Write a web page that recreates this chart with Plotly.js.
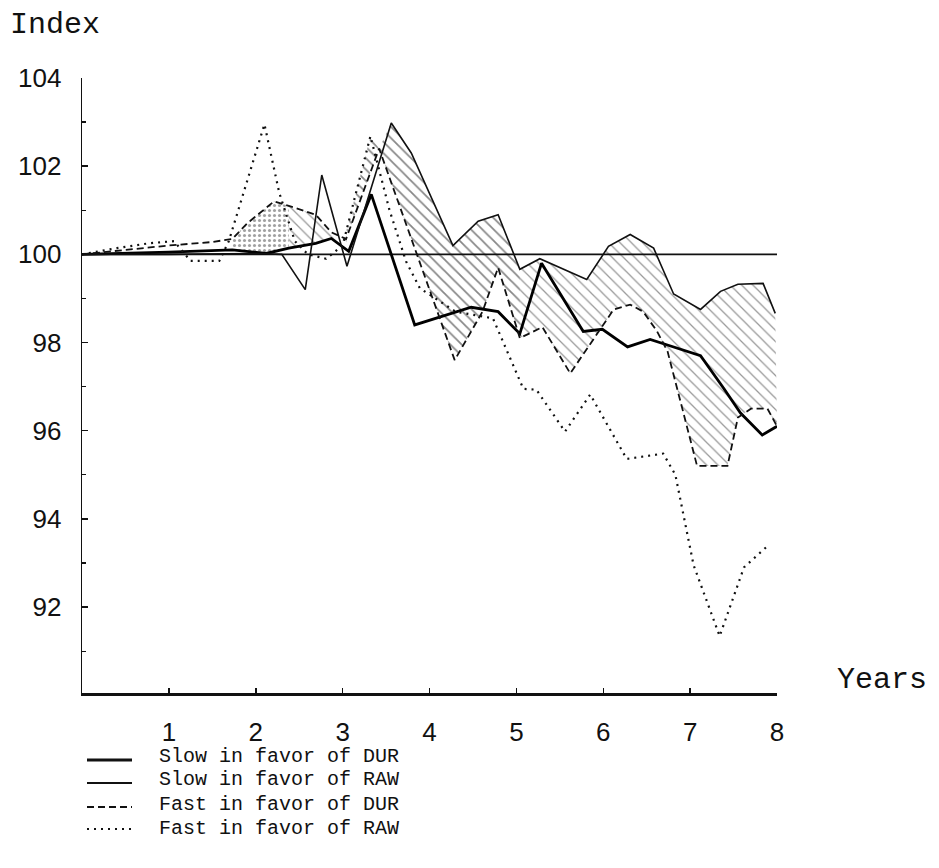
<!DOCTYPE html>
<html>
<head>
<meta charset="utf-8">
<script src="https://cdn.plot.ly/plotly-3.0.1.min.js"></script>
<style>html,body{margin:0;padding:0;background:#fff;}#chart{width:939px;height:868px;}</style>
</head>
<body>
<div id="chart"></div>
<script>
// ---- data ----
const BASE = 100;
const xRange = [0, 8];

const slowDurX = [0, 0.5, 1.0, 1.73, 2.12, 2.38, 2.69, 2.87, 2.99, 3.07, 3.33, 3.83, 4.48, 4.79, 5.04, 5.29, 5.77, 5.99, 6.28, 6.54, 6.73, 7.12, 7.39, 7.58, 7.83, 8.0];
const slowDurY = [100, 100.02, 100.05, 100.1, 100.02, 100.14, 100.25, 100.36, 100.18, 100.07, 101.36, 98.4, 98.8, 98.7, 98.2, 99.8, 98.25, 98.3, 97.9, 98.07, 97.95, 97.7, 96.95, 96.4, 95.9, 96.1];

const slowRawX = [0, 1.0, 2.0, 2.30, 2.57, 2.76, 3.05, 3.56, 3.79, 4.27, 4.56, 4.79, 5.04, 5.27, 5.81, 6.06, 6.31, 6.58, 6.81, 7.12, 7.35, 7.55, 7.84, 7.98];
const slowRawY = [100, 100.0, 100.02, 100.0, 99.2, 101.8, 99.73, 102.98, 102.3, 100.2, 100.75, 100.9, 99.66, 99.9, 99.43, 100.18, 100.45, 100.14, 99.1, 98.75, 99.16, 99.32, 99.34, 98.66];

const fastDurX = [0, 0.5, 1.0, 1.5, 1.73, 1.9, 2.21, 2.38, 2.69, 2.87, 3.04, 3.42, 4.29, 4.61, 4.79, 5.04, 5.30, 5.62, 6.12, 6.31, 6.46, 6.62, 6.74, 7.08, 7.43, 7.55, 7.70, 7.89, 8.0];
const fastDurY = [100, 100.1, 100.2, 100.28, 100.35, 100.7, 101.2, 101.1, 100.9, 100.5, 100.35, 102.4, 97.6, 98.7, 99.7, 98.1, 98.35, 97.3, 98.75, 98.86, 98.7, 98.25, 97.8, 95.2, 95.2, 96.3, 96.5, 96.5, 96.1];

const fastRawX = [0, 0.4, 0.77, 1.06, 1.25, 1.58, 1.69, 2.1, 2.27, 2.45, 2.6, 2.81, 3.0, 3.32, 3.54, 3.73, 3.89, 4.3, 4.73, 5.08, 5.23, 5.56, 5.85, 6.27, 6.69, 6.83, 7.04, 7.34, 7.62, 7.90];
const fastRawY = [100, 100.14, 100.25, 100.3, 99.85, 99.85, 100.3, 102.95, 101.4, 100.3, 100.0, 99.9, 100.2, 102.68, 101.0, 99.84, 99.23, 98.7, 98.55, 96.95, 96.93, 95.98, 96.82, 95.36, 95.48, 95.0, 92.95, 91.34, 92.9, 93.4];

const yTickVals = [92, 94, 96, 98, 100, 102, 104];
const xTickVals = [1, 2, 3, 4, 5, 6, 7, 8];
const legendLabels = ["Slow in favor of DUR", "Slow in favor of RAW", "Fast in favor of DUR", "Fast in favor of RAW"];
const yTitle = "Index";
const xTitle = "Years";

// ---- layout helpers ----
const W = 939, H = 868;
const M = {l: 82, r: 162, t: 78, b: 175};
const PW = W - M.l - M.r, PH = H - M.t - M.b;
const px = v => (v - M.l) / PW;
const py = v => 1 - (v - M.t) / PH;

function sub(xs, ys, lo, hi) {
  const ox = [], oy = [];
  xs.forEach((x, i) => { if (x >= lo - 1e-9 && x <= hi + 1e-9) { ox.push(x); oy.push(ys[i]); } });
  return {x: ox, y: oy};
}

const traces = [];
function band(lower, upper, pattern) {
  traces.push({x: lower.x, y: lower.y, mode: 'lines', line: {width: 0, color: 'rgba(0,0,0,0)'}, hoverinfo: 'skip', showlegend: false});
  traces.push({x: upper.x, y: upper.y, mode: 'lines', line: {width: 0, color: 'rgba(0,0,0,0)'}, fill: 'tonexty',
    fillcolor: 'rgba(0,0,0,0)', fillpattern: pattern, hoverinfo: 'skip', showlegend: false});
}
const stipple = {shape: '.', size: 5, solidity: 0.3, fgcolor: '#444', bgcolor: 'rgba(255,255,255,0)', fillmode: 'overlay'};
const hatch = {shape: '\\', size: 8, solidity: 0.22, fgcolor: '#111', bgcolor: 'rgba(255,255,255,0)', fillmode: 'overlay'};
const hatchLight = {shape: '\\', size: 8, solidity: 0.16, fgcolor: '#333', bgcolor: 'rgba(255,255,255,0)', fillmode: 'overlay'};

band(sub(slowDurX, slowDurY, 1.7, 2.38), sub(fastDurX, fastDurY, 1.7, 2.38), stipple);
band(sub(slowDurX, slowDurY, 2.38, 3.07), sub(fastDurX, fastDurY, 2.38, 3.07), hatchLight);
band(sub(fastDurX, fastDurY, 3.0, 3.45), sub(fastRawX, fastRawY, 3.0, 3.45), hatch);
band(sub(fastDurX, fastDurY, 3.42, 5.04), sub(slowRawX, slowRawY, 3.42, 5.04), hatch);
band(sub(fastDurX, fastDurY, 5.04, 8), sub(slowRawX, slowRawY, 5.04, 8), hatchLight);

traces.push({x: xRange, y: [BASE, BASE], mode: 'lines', line: {color: '#111', width: 1.6}, hoverinfo: 'skip', showlegend: false});
const styles = [
  {color: '#000', width: 2.8, dash: 'solid'},
  {color: '#111', width: 1.6, dash: 'solid'},
  {color: '#111', width: 1.8, dash: '7px,4px'},
  {color: '#111', width: 2.2, dash: '2px,5px'}
];
const seriesX = [slowDurX, slowRawX, fastDurX, fastRawX];
const seriesY = [slowDurY, slowRawY, fastDurY, fastRawY];
seriesX.forEach((xs, i) => {
  traces.push({x: xs, y: seriesY[i], name: legendLabels[i], mode: 'lines', line: styles[i], showlegend: false});
});

const mono = 'Liberation Mono, Courier New, monospace';
const annotations = [
  {text: yTitle, xref: 'paper', yref: 'paper', x: px(8), y: py(25), xanchor: 'left', yanchor: 'middle', showarrow: false, font: {family: mono, size: 30, color: '#111'}},
  {text: xTitle, xref: 'paper', yref: 'paper', x: px(835), y: py(680), xanchor: 'left', yanchor: 'middle', showarrow: false, font: {family: mono, size: 30, color: '#111'}}
];
const shapes = [];
const rowText = [756, 780, 804, 828];
const rowLine = [760, 783, 807, 829];
legendLabels.forEach((lab, i) => {
  annotations.push({text: lab, xref: 'paper', yref: 'paper', x: px(158), y: py(rowText[i]), xanchor: 'left', yanchor: 'middle',
    showarrow: false, borderpad: 0, font: {family: mono, size: 20, color: '#111'}});
  shapes.push({type: 'line', xref: 'paper', yref: 'paper', x0: px(87), x1: px(132), y0: py(rowLine[i]), y1: py(rowLine[i]),
    line: {color: '#111', width: i === 0 ? 3 : (i === 1 ? 2 : styles[i].width), dash: i >= 2 ? styles[i].dash : 'solid'}});
});

const layout = {
  width: W, height: H,
  margin: M,
  paper_bgcolor: '#fff', plot_bgcolor: '#fff',
  showlegend: false,
  xaxis: {range: xRange, showgrid: false, zeroline: false, showline: true, linecolor: '#111', linewidth: 2.5,
    ticks: 'inside', ticklen: 5, tickwidth: 1.5, tickcolor: '#111', tickvals: xTickVals, ticklabelstandoff: 14,
    tickfont: {family: 'Liberation Sans, Arial, sans-serif', size: 26, color: '#111'}},
  yaxis: {range: [90.05, 104], showgrid: false, zeroline: false, showline: true, linecolor: '#111', linewidth: 1.3,
    ticks: 'inside', ticklen: 6, tickwidth: 1.5, tickcolor: '#111', tickvals: yTickVals, ticklabelstandoff: 14,
    minor: {dtick: 1, ticks: 'inside', ticklen: 4, tickwidth: 1.2, tickcolor: '#111'},
    tickfont: {family: 'Liberation Sans, Arial, sans-serif', size: 26, color: '#111'}},
  annotations: annotations,
  shapes: shapes
};

Plotly.newPlot('chart', traces, layout, {displayModeBar: false, staticPlot: true});
</script>
</body>
</html>
